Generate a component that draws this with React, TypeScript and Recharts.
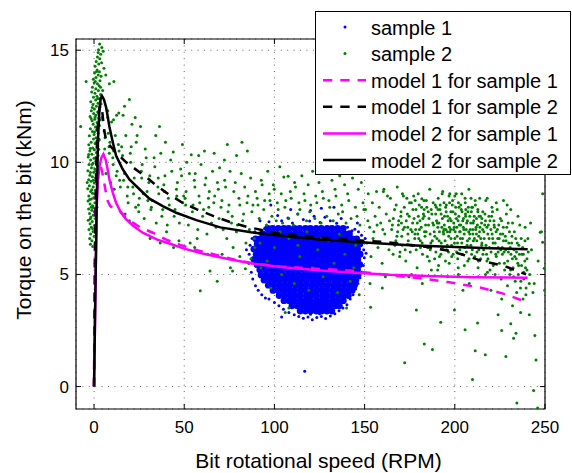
import React from 'react';
import { ComposedChart, Scatter, XAxis, YAxis, CartesianGrid, ReferenceArea, Legend } from 'recharts';

const FONT = '"Liberation Sans", Arial, Helvetica, sans-serif';

const X_TICKS = [0, 50, 100, 150, 200, 250];
const Y_TICKS = [0, 5, 10, 15];
const X_DOMAIN: [number, number] = [-10, 250];
const Y_DOMAIN: [number, number] = [-1, 15.5];

const SERIES_NAMES = ['sample 1', 'sample 2', 'model 1 for sample 1', 'model 1 for sample 2', 'model 2 for sample 1', 'model 2 for sample 2'];
const SERIES_COLORS = ['#0000ff', '#008000', '#ff00ff', '#000000', '#ff00ff', '#000000'];
const SERIES_KINDS = ['dot', 'dot', 'dash', 'dash', 'solid', 'solid'];

// sample 1: dense core of the cloud, rows of [torque, speeds]
const sample1CoreRows: [number, number[]][] = [
  [7.05, [96.2, 98.9, 102.1, 105.2, 107.9, 111.1, 114, 117.2, 119.9, 123.1, 126, 129.2, 131.9, 135, 138.1]],
  [6.82, [93.4, 96.6, 99.5, 102.7, 105.6, 108.5, 111.7, 114.5, 117.6, 120.6, 123.5, 126.7, 129.6, 132.5, 135.6, 138.7, 141.6]],
  [6.59, [89.6, 92, 95.1, 98.1, 101, 104.2, 107.1, 110, 113.1, 116.2, 119, 122.1, 125.1, 128, 131.2, 134.1, 137, 140.1, 143.2, 145.6]],
  [6.36, [90.4, 93.6, 96.5, 99.6, 102.6, 105.5, 108.7, 111.6, 114.6, 117.5, 120.7, 123.6, 126.5, 129.7, 132.6, 135.5, 138.6, 141.7, 144.6, 147.4]],
  [6.13, [88.6, 91.9, 94.9, 97.9, 101.1, 104, 107, 110.2, 113.1, 116, 119.1, 122.1, 125, 128.1, 131.1, 134.2, 137.1, 140, 143.1, 146.1]],
  [5.9, [89.9, 93.2, 96.4, 99.4, 102.4, 105.5, 108.4, 111.6, 114.5, 117.4, 120.6, 123.6, 126.5, 129.6, 132.6, 135.6, 138.6, 141.5, 144.6, 147.5]],
  [5.67, [88.7, 91.8, 95, 98, 100.9, 104.1, 107.1, 110, 113.1, 116.1, 119, 122, 125.2, 128.1, 131, 134.1, 137.2, 140.1, 143, 146.2]],
  [5.44, [90.3, 93.5, 96.5, 99.6, 102.5, 105.6, 108.6, 111.5, 114.7, 117.6, 120.5, 123.7, 126.6, 129.5, 132.7, 135.6, 138.5, 141.6, 144.7, 147.3]],
  [5.21, [91.9, 95.1, 98.2, 101.1, 104, 107.2, 110.1, 113, 116.2, 119.1, 122, 125.1, 128.2, 131.1, 134, 137.1, 140.2, 143, 146.1]],
  [4.98, [92.6, 95.6, 98.7, 101.6, 104.6, 107.7, 110.5, 113.6, 116.7, 119.6, 122.6, 125.7, 128.6, 131.5, 134.7, 137.6, 140.5, 143.6, 146.4]],
  [4.75, [94.2, 97.1, 100.2, 103.1, 106, 109.2, 112.1, 115, 118.1, 121.2, 124.1, 127, 130.1, 133.2, 136, 139.1, 142.2, 145.2]],
  [4.52, [96.6, 99.6, 102.7, 105.6, 108.5, 111.7, 114.6, 117.5, 120.7, 123.6, 126.5, 129.6, 132.7, 135.5, 138.6, 141.7, 144.4]],
  [4.29, [99.2, 102.1, 105.2, 108.1, 111, 114.2, 117.1, 120, 123.1, 126.1, 129, 132.2, 135.1, 138, 141.1, 143.1]],
  [4.06, [102.6, 105.6, 108.7, 111.6, 114.5, 117.7, 120.6, 123.5, 126.7, 129.6, 132.5, 135.7, 138.6, 141]],
  [3.83, [105.3, 108.2, 111.1, 114.2, 117.1, 120, 123.2, 126.1, 129, 132.2, 135.1, 138.2]],
  [3.6, [109.7, 112.6, 115.7, 118.6, 121.5, 124.7, 127.6, 130.5, 133.7, 136]],
  [3.37, [114.3, 117.2, 120.1, 123.2, 126.1, 129, 131.8]],
];

// sample 1: loose points around the rim of the cloud
const sample1Edge: [number, number][] = [
  [97, 7.35], [101.8, 7.63], [104, 7.4], [107.5, 7.52], [110, 7.3], [113, 7.7], [116, 7.45], [119.5, 7.38], [122, 7.6], [125.3, 7.32],
  [128, 7.55], [131, 7.4], [134.5, 7.28], [137, 7.5], [140.5, 7.1], [143, 6.95], [94.5, 7.05], [91.5, 6.85], [120, 7.85], [126, 7.95], [109, 7.9],
  [86.5, 6.3], [86, 5.9], [85.8, 5.5], [87.6, 6.6], [87.2, 5.1], [88, 4.8], [89.5, 4.5], [91, 4.3], [93, 4.1], [95, 3.95], [97, 3.9],
  [100, 3.75], [102.5, 3.6], [105, 3.45], [108, 3.3], [111, 3.2], [113.5, 3.12], [89.2, 6.9],
  [116, 3.05], [118.6, 3.1], [121, 2.98], [123.5, 3.08], [126, 3.12], [128.4, 3.04], [131, 3.15], [133.5, 3.25], [135.8, 3.38], [138, 3.5], [120, 3.22], [125, 3.25],
  [140.2, 3.65], [142, 3.9], [143.6, 4.1], [145, 4.35], [146.3, 4.6], [147.4, 4.85], [148.5, 5.1], [149.3, 5.4], [149.8, 5.75], [149.5, 6.1],
  [149.2, 6.45], [148.3, 6.75], [146.6, 6.9], [144.6, 7.02], [150.8, 5.95], [150.3, 6.6],
  [116.8, 0.68], [98, 8.1], [133, 8.0], [92, 7.4], [146, 7.3], [84.5, 6.1], [104, 3.1],
];

// sample 2: near-zero speed spike
const sample2Spike: [number, number][] = [
  [3.1, 15.28], [4.3, 15.12], [2.5, 15.02], [5.1, 14.95], [3.7, 14.82], [1.9, 14.7], [3.2, 14.62], [1.2, 14.5], [4.2, 14.44], [2.6, 14.38],
  [0.6, 14.28], [5.5, 14.2], [1.7, 14.12], [3.0, 14.04], [0.3, 13.98], [2.3, 13.9], [3.9, 13.84], [1.1, 13.78], [-0.4, 13.7], [3.3, 13.64],
  [0.1, 13.55], [1.9, 13.5], [2.8, 13.42], [-0.9, 13.35], [1.0, 13.28], [2.4, 13.2], [-1.3, 13.14], [0.5, 13.08], [3.6, 13.02], [1.6, 12.95],
  [-0.3, 12.9], [2.9, 12.84], [0.9, 12.78], [-1.8, 12.7], [2.2, 12.64], [-0.6, 12.58], [1.3, 12.5], [3.2, 12.44], [0.2, 12.38], [-1.5, 12.3],
  [2.0, 12.24], [-0.2, 12.18], [1.0, 12.1], [-2.2, 12.04], [2.6, 11.98], [0.4, 11.92], [-1.1, 11.85], [1.7, 11.78], [-0.5, 11.7], [3.0, 11.64],
  [0.8, 11.58], [-2.0, 11.5], [1.4, 11.44], [-0.9, 11.38], [2.3, 11.3], [0.0, 11.24], [-2.6, 11.18], [1.1, 11.1], [-0.3, 11.04], [2.6, 10.98],
  [-1.6, 10.9], [0.6, 10.84], [-2.9, 10.78], [1.8, 10.7], [-0.8, 10.64], [0.2, 10.56], [-2.3, 10.5], [1.3, 10.44], [-1.2, 10.36], [2.2, 10.3],
  [-3.2, 10.24], [0.0, 10.18], [-1.9, 10.1], [1.0, 10.04], [-0.6, 9.96], [-2.8, 9.9], [1.9, 9.84], [-1.4, 9.76], [0.4, 9.7], [-3.4, 9.62],
  [-0.2, 9.56], [1.4, 9.5], [-2.3, 9.42], [-0.9, 9.36], [0.8, 9.3], [-3.0, 9.22], [-1.6, 9.16], [0.1, 9.08], [1.7, 9.02], [-2.6, 8.96],
  [-0.5, 8.9], [-3.5, 8.82], [0.7, 8.76], [-1.9, 8.7], [-0.9, 8.62], [1.2, 8.56], [-2.9, 8.5], [-0.2, 8.42], [-1.5, 8.36], [-3.3, 8.28],
  [0.5, 8.2], [-2.2, 8.14], [-0.8, 8.06], [1.6, 8.0], [-3.0, 7.92], [-1.2, 7.86], [0.2, 7.8], [-2.5, 7.72], [-0.4, 7.64], [-1.8, 7.56],
  [0.8, 7.5], [-3.2, 7.42], [-1.0, 7.36], [-2.2, 7.26], [0.3, 7.18], [-1.5, 7.1], [-2.8, 7.0], [-0.5, 6.92], [-1.9, 6.8], [0.1, 6.7],
  [-2.4, 6.6], [-1.2, 6.5], [-2.0, 6.35], [-0.7, 6.25],
  [2.3, 14.9], [1.4, 14.05], [3.6, 13.35], [0.7, 13.6], [2.0, 12.85], [3.9, 12.6], [0.6, 12.0], [2.8, 12.3], [-1.0, 12.45], [1.9, 11.55],
  [-1.6, 11.95], [0.3, 11.35], [2.9, 11.02], [-2.1, 10.62], [0.8, 10.2], [2.6, 10.58], [-1.1, 9.9], [-2.0, 9.55], [0.9, 9.62], [-0.4, 9.2],
  [-1.3, 8.78], [0.3, 8.6], [-2.4, 8.34], [-0.3, 7.98], [-1.6, 8.0], [1.0, 7.9], [-2.1, 7.48], [-0.8, 7.05], [1.4, 10.9], [3.5, 11.9],
  [-3.0, 10.35], [4.8, 13.2], [4.5, 12.0], [1.5, 9.15], [-3.8, 9.1],
  [-7.4, 11.6], [-4.4, 13.6], [11.0, 13.6], [8.5, 13.5], [16.9, 12.5], [19.6, 12.8], [13.7, 12.2], [7.6, 12.3], [10.8, 11.9], [6.5, 13.9],
];

// sample 2: decaying region, 5 to 90 RPM
const sample2Low: [number, number][] = [
  [5.6, 11.4], [6.1, 11.1], [5.9, 10.6], [7.2, 12.3], [7.6, 12.0], [8.3, 10.7], [8.8, 10.9], [8.5, 10.4], [9.7, 11.8], [10.4, 10.2],
  [10.9, 10.5], [10.6, 9.9], [11.8, 11.2], [12.3, 9.4], [12.8, 9.6], [13.5, 10.8], [13.9, 10.5], [14.6, 8.9], [14.2, 9.2], [11.2, 8.8],
  [6.6, 9.5], [9.2, 9.1], [12.5, 12.1], [7.9, 11.3],
  [15.3, 10.7], [15.8, 10.3], [16.4, 9.2], [16.9, 9.5], [17.6, 11.2], [18.4, 8.5], [18.9, 8.2], [18.7, 8.9], [20.1, 10.4], [20.6, 10.7],
  [20.3, 10.0], [21.5, 8.9], [22.3, 9.3], [21.9, 8.6], [23.4, 10.9], [23.9, 11.2], [24.6, 8.1], [25.1, 8.4], [24.8, 7.8], [26.2, 9.6],
  [26.7, 9.9], [26.4, 9.3], [27.8, 7.5], [28.4, 10.6], [28.9, 10.2], [29.4, 8.7], [29.8, 8.3], [17.2, 7.7], [19.6, 7.4], [22.8, 12.0],
  [25.8, 11.6], [27.3, 8.6], [16.1, 12.1], [23.1, 8.0], [21.0, 11.7],
  [30.4, 9.1], [30.9, 9.4], [31.5, 7.9], [32.2, 8.3], [31.8, 8.0], [33.3, 10.2], [33.7, 9.8], [34.5, 7.3], [35.4, 8.9], [35.9, 8.6],
  [35.6, 9.3], [37.0, 10.4], [37.6, 7.6], [38.1, 7.9], [38.7, 9.0], [39.3, 9.4], [39.0, 8.7], [40.6, 7.2], [41.2, 8.4], [41.7, 8.1],
  [42.5, 10.1], [43.1, 9.6], [43.9, 10.46], [44.4, 7.6], [44.9, 7.9], [45.7, 8.8], [46.2, 9.1], [45.9, 8.5], [47.3, 7.3], [48.0, 9.7],
  [48.5, 9.4], [49.2, 8.2], [49.7, 8.5], [31.1, 6.6], [36.7, 6.4], [40.2, 6.9], [44.1, 6.2], [47.1, 6.5], [34.2, 11.2], [39.6, 10.9],
  [49.0, 10.8], [36.3, 11.6],
  [50.5, 8.4], [51.0, 8.7], [50.8, 8.1], [52.3, 7.2], [52.9, 9.5], [53.9, 10.34], [54.5, 7.8], [54.9, 8.1], [55.6, 9.2], [56.1, 9.5],
  [55.9, 8.9], [57.5, 7.0], [58.2, 8.5], [58.6, 8.2], [59.3, 9.9], [60.2, 7.6], [60.7, 7.9], [61.5, 9.0], [62.0, 9.3], [62.6, 6.8],
  [63.4, 8.4], [63.9, 8.7], [63.6, 8.0], [65.1, 7.3], [65.7, 9.6], [66.4, 8.2], [66.9, 8.5], [67.6, 7.1], [68.4, 9.1], [68.9, 8.8],
  [69.6, 9.76], [69.3, 7.5], [53.3, 6.4], [58.0, 10.3], [63.0, 5.9], [64.3, 5.15], [58.9, 4.27], [68.3, 4.7], [55.8, 6.2], [61.2, 10.5],
  [66.6, 10.4], [51.4, 10.0], [57.2, 6.6],
  [70.4, 8.0], [70.9, 8.3], [71.6, 7.0], [72.4, 9.2], [72.9, 8.9], [73.6, 6.6], [74.3, 7.8], [74.8, 8.1], [75.6, 5.3], [75.4, 9.6],
  [76.2, 7.3], [76.8, 5.15], [76.6, 7.6], [77.5, 8.7], [78.3, 9.1], [78.9, 6.9], [79.5, 7.2], [80.3, 8.4], [80.8, 8.1], [81.6, 9.5],
  [82.4, 7.4], [82.9, 7.7], [83.9, 5.25], [83.5, 8.9], [84.2, 6.4], [84.8, 8.2], [85.3, 8.5], [86.1, 7.0], [86.8, 9.3], [87.5, 7.8],
  [88.1, 8.1], [88.9, 6.6], [89.5, 8.7], [72.3, 10.1], [79.0, 10.3], [85.0, 10.5], [71.0, 5.9], [80.8, 5.8], [87.0, 5.7], [73.9, 10.8],
  [82.0, 10.9], [77.1, 6.2],
];

// sample 2: over and around the sample 1 cloud, 90 to 150 RPM
const sample2Mid: [number, number][] = [
  [90.4, 8.4], [90.9, 8.1], [91.6, 7.5], [92.7, 9.2], [93.2, 9.0], [94.1, 7.9], [94.6, 8.3], [95.6, 7.2], [96.3, 9.6], [97.1, 8.6],
  [97.5, 8.3], [98.6, 7.6], [99.4, 9.0], [99.9, 8.8], [101.0, 7.4], [101.6, 8.2], [102.1, 7.9], [103.0, 9.8], [103.8, 8.6], [104.5, 7.3],
  [105.2, 9.35], [105.8, 8.0], [106.3, 8.3], [107.6, 9.38], [107.9, 7.5], [108.8, 8.7], [109.3, 8.4], [110.5, 7.2], [111.2, 9.1], [111.7, 8.9],
  [112.9, 7.7], [113.6, 8.2], [114.1, 7.9], [115.2, 9.4], [116.4, 8.6], [116.9, 8.3], [117.8, 7.4], [118.7, 9.0], [119.6, 7.8], [120.1, 8.1],
  [121.2, 9.6], [122.4, 7.5], [122.9, 8.5], [123.5, 8.2], [124.7, 9.1], [125.9, 7.3], [126.6, 8.7], [127.1, 8.4], [128.3, 9.5], [129.0, 7.6],
  [130.2, 8.3], [130.7, 8.0], [131.9, 9.2], [132.6, 7.4], [133.6, 8.8], [134.1, 8.5], [135.4, 7.7], [136.2, 9.4], [137.3, 8.1], [137.8, 7.8],
  [138.9, 9.0], [139.7, 7.3], [140.6, 8.6], [141.2, 8.3], [142.5, 7.5], [143.3, 9.3], [144.4, 9.8], [144.9, 8.0], [145.8, 7.6], [146.5, 8.8],
  [147.4, 7.2], [148.2, 9.1], [149.1, 8.2], [149.6, 7.9],
  [92, 6.4], [96, 5.6], [100, 6.2], [104, 5.0], [108, 6.6], [111, 4.6], [114, 5.8], [118, 6.9], [121, 5.3], [124, 6.1],
  [127, 4.9], [130, 6.5], [133, 5.5], [136, 6.8], [139, 5.9], [142, 4.7], [145, 6.3], [106, 3.3], [108, 3.5], [98, 4.4],
  [140, 3.5], [147, 4.1], [113, 6.3], [126, 6.6], [119, 4.3], [103, 6.9], [135, 4.2], [144, 5.3], [89, 6.2], [92.5, 5.3],
];

// sample 2: high speed region, 150 to 250 RPM
const sample2High: [number, number][] = [
  [150.5, 7.9], [151.2, 6.4], [152.0, 8.6], [152.8, 7.1], [153.5, 5.8], [154.3, 8.2], [155.1, 6.9], [155.8, 7.6], [156.6, 8.7], [157.4, 6.2],
  [158.1, 8.0], [158.9, 7.3], [159.7, 5.5], [160.4, 8.7], [161.2, 6.8], [162.0, 7.7], [162.7, 8.5], [163.5, 6.1], [164.3, 8.4], [165.0, 7.0],
  [165.8, 5.9], [166.6, 7.9], [167.3, 6.5], [168.1, 8.9], [168.9, 7.4], [169.6, 6.0], [153.0, 4.6], [161.5, 4.9], [153.3, 3.54], [160.7, 8.8],
  [170.2, 7.8], [170.8, 6.3], [171.5, 8.5], [172.1, 7.1], [172.8, 5.6], [173.4, 8.4], [174.0, 6.8], [174.7, 7.6], [175.3, 6.0], [175.9, 8.2],
  [176.6, 7.3], [177.2, 8.5], [177.8, 6.6], [178.5, 7.9], [179.1, 5.3], [179.7, 8.6], [180.4, 7.0], [181.0, 6.2], [181.6, 8.0], [182.3, 7.5],
  [182.9, 8.3], [183.5, 6.7], [184.2, 8.3], [184.8, 5.8], [185.4, 7.2], [186.1, 8.8], [186.7, 6.4], [187.3, 7.7], [188.0, 8.2], [188.6, 6.9],
  [189.2, 8.1], [189.9, 7.4], [171.0, 8.6], [174.5, 4.9], [178.0, 8.3], [180.0, 6.6], [183.0, 7.9], [187.0, 5.2], [189.5, 6.0], [176.0, 5.0],
  [182.0, 4.6], [181.7, 8.38],
  [190.3, 7.3], [190.8, 8.4], [191.3, 6.5], [191.8, 7.9], [192.3, 5.9], [192.8, 7.1], [193.3, 8.7], [193.8, 6.8], [194.3, 7.6], [194.8, 5.6],
  [195.3, 8.1], [195.8, 6.3], [196.3, 7.4], [196.8, 8.5], [197.3, 6.9], [197.8, 7.8], [198.3, 5.8], [198.8, 8.3], [199.3, 7.0], [199.8, 6.4],
  [200.3, 7.7], [200.8, 8.6], [201.3, 6.7], [201.8, 7.4], [202.3, 8.0], [202.8, 6.1], [203.3, 7.2], [203.8, 8.6], [204.3, 6.6], [204.8, 7.5],
  [205.3, 5.4], [205.8, 8.2], [206.3, 7.0], [206.8, 6.3], [207.3, 7.8], [207.8, 8.8], [208.3, 6.8], [208.8, 7.3], [209.3, 5.9], [209.8, 8.0],
  [210.3, 6.5], [210.8, 7.6], [211.3, 8.3], [211.8, 7.1], [212.3, 6.0], [212.8, 7.9], [213.3, 6.7], [213.8, 8.4], [214.3, 5.7], [214.8, 7.3],
  [190.5, 5.2], [193.0, 8.6], [196.0, 4.9], [202.0, 5.0], [208.0, 4.6], [213.0, 4.9], [191.5, 6.9], [194.0, 8.2], [197.0, 7.1], [200.0, 8.5],
  [203.0, 6.9], [206.0, 7.6], [209.0, 8.4], [212.0, 7.5], [215.0, 6.4], [195.0, 7.0], [198.0, 7.4], [201.0, 6.0], [204.0, 7.8], [207.0, 6.5],
  [210.0, 7.0], [213.5, 7.6], [204.5, 4.3], [197.2, 8.6], [205.7, 8.4],
  [215.5, 7.8], [216.0, 6.1], [216.6, 7.2], [217.2, 8.3], [217.8, 5.6], [218.3, 6.8], [218.9, 7.6], [219.5, 5.2], [220.0, 7.0], [220.6, 8.0],
  [221.2, 6.4], [221.7, 7.4], [222.3, 5.0], [222.9, 6.9], [223.5, 7.9], [224.0, 6.0], [224.6, 6.6], [225.2, 7.5], [225.7, 4.8], [226.3, 6.2],
  [226.9, 7.1], [227.5, 5.5], [228.0, 6.7], [228.6, 7.7], [229.2, 4.5], [229.7, 6.0], [230.3, 6.9], [230.9, 5.2], [231.5, 6.4], [232.0, 7.3],
  [232.6, 4.9], [233.2, 5.8], [233.8, 6.6], [234.3, 4.2], [234.9, 5.5], [235.5, 6.3], [236.0, 7.2], [236.6, 4.7], [237.2, 5.9], [237.8, 3.9],
  [238.3, 5.1], [238.9, 6.5], [239.5, 4.4], [240.0, 5.7], [218.0, 8.4], [223.0, 8.2], [227.0, 8.3], [231.0, 7.9], [235.0, 7.6], [239.0, 7.1],
  [220.0, 4.3], [226.0, 3.9], [232.0, 3.6], [236.5, 3.3], [217.0, 5.0], [229.0, 8.1], [240.5, 6.6], [220.9, 7.8],
  [241.5, 5.0], [242.5, 6.1], [243.3, 4.2], [244.0, 4.6], [247.4, 6.88], [248.7, 8.6], [249.6, 5.28], [246.2, 5.6], [242.0, 7.3], [248.0, 6.9],
  [248.7, 6.44], [249.8, 4.3],
  [159.8, 4.4], [172.2, 1.06], [178.7, 3.42], [183.1, 1.9], [187.6, 1.65], [192.2, 2.87], [199.8, 3.42], [205.7, 2.53], [209.8, 0.31], [211.3, 1.6],
  [212.6, 2.84], [216.9, 1.42], [224.0, 3.2], [226.0, 2.5], [228.3, 1.34], [232.6, 2.16], [233.9, 2.38], [234.4, -0.73], [243.7, -0.18], [244.4, 2.28],
  [245.0, 1.19], [245.9, -0.95], [241.3, 3.2], [231.0, 2.8],
];

// sample 2: the densest part of the high speed band
const sample2Band: [number, number][] = [
  [165.4, 7.2], [165.9, 7.5], [166.8, 6.3], [167.5, 8.1], [168.3, 6.9], [168.7, 7.2], [169.4, 5.8], [170.1, 7.6], [170.6, 6.7], [171.3, 7.0],
  [172.0, 8.0], [172.5, 6.1], [173.1, 7.4], [173.7, 7.7], [174.2, 6.5], [174.9, 8.2], [175.6, 7.0], [176.2, 6.3], [176.8, 7.9], [177.4, 7.5],
  [177.9, 6.8], [178.6, 6.1], [179.2, 7.3], [179.8, 7.6], [180.3, 8.1], [180.9, 6.5], [181.4, 7.1], [182.1, 5.9], [182.6, 7.7], [183.2, 6.9],
  [183.8, 7.2], [184.5, 8.0], [185.0, 6.2], [185.7, 7.5], [186.3, 6.8], [186.9, 7.9], [187.5, 6.5], [188.2, 7.2], [188.8, 5.7], [189.4, 7.7],
  [190.1, 6.6], [190.7, 7.9], [191.2, 7.3], [191.9, 8.1], [192.5, 6.4], [193.1, 7.5], [193.6, 6.9], [194.2, 7.2], [194.9, 8.0], [195.5, 6.1],
  [196.0, 7.6], [196.6, 6.7], [197.1, 8.2], [197.7, 7.0], [198.2, 6.3], [198.9, 7.8], [199.4, 7.3], [200.0, 6.6], [200.5, 8.0], [201.1, 7.1],
  [201.6, 5.7], [202.2, 7.6], [202.7, 6.9], [203.3, 8.1], [203.9, 6.4], [204.4, 7.4], [205.0, 7.0], [205.5, 6.2], [206.1, 7.9], [206.6, 7.3],
  [207.2, 5.6], [207.7, 6.9], [208.3, 7.6], [208.9, 6.3], [209.4, 8.0], [210.0, 6.8], [210.5, 7.4], [211.1, 5.8], [211.6, 7.0], [212.2, 6.5],
  [212.8, 7.8], [213.3, 6.1], [213.9, 7.1], [214.4, 6.6], [215.0, 7.5], [215.6, 5.9], [216.1, 6.9], [216.7, 7.7], [217.3, 6.3], [217.8, 7.1],
  [218.4, 5.7], [219.0, 6.6], [219.5, 7.4], [220.1, 6.0], [220.7, 6.8], [221.3, 5.4], [221.8, 7.2], [222.4, 6.4], [223.0, 5.8], [223.6, 7.0],
  [224.1, 6.2], [224.7, 5.5], [225.3, 6.8], [225.9, 7.4], [226.4, 5.9], [227.0, 6.5], [227.6, 5.2], [228.2, 6.1], [228.8, 7.1], [229.3, 5.6],
  [229.9, 6.4], [230.5, 5.0], [231.1, 5.9], [231.7, 6.7], [232.3, 5.3], [232.9, 6.1], [233.5, 4.7], [234.0, 5.7], [234.6, 6.4], [235.2, 5.0],
  [235.8, 5.9], [236.4, 4.4], [237.0, 5.4], [237.6, 6.2], [238.2, 4.8], [238.8, 5.6], [239.4, 4.1], [240.0, 5.2], [240.7, 6.0], [241.3, 4.6],
  [178.3, 7.0], [179.5, 6.8], [180.7, 7.4], [181.9, 6.4], [183.0, 7.6], [184.1, 6.9], [185.3, 7.8], [186.4, 6.1], [187.8, 7.3], [188.9, 6.7],
  [189.7, 8.0], [190.6, 7.1], [191.5, 5.8], [192.4, 7.7], [193.2, 6.2], [194.0, 7.0], [194.6, 6.5], [195.2, 7.8], [195.9, 6.9], [196.5, 6.0],
  [197.3, 7.5], [197.9, 6.6], [198.6, 8.1], [199.1, 5.9], [199.7, 7.1], [200.2, 6.9], [200.9, 7.5], [201.5, 6.4], [202.0, 8.2], [202.5, 7.2],
  [203.1, 6.6], [203.6, 7.9], [204.1, 5.9], [204.7, 7.1], [205.2, 6.8], [205.9, 7.7], [206.4, 6.0], [207.0, 7.4], [207.5, 8.0], [208.1, 6.6],
  [208.6, 7.0], [209.2, 7.8], [209.7, 6.1], [210.2, 7.3], [210.9, 6.6], [211.4, 8.1], [212.0, 6.8], [212.5, 7.2], [213.1, 5.6], [213.7, 6.9],
  [214.2, 7.6], [214.9, 6.3], [215.4, 7.0], [216.3, 6.6], [217.0, 7.4], [217.6, 5.9], [218.6, 7.2], [219.2, 6.2], [220.4, 7.6], [221.0, 6.6],
  [222.0, 7.1], [222.7, 5.9], [223.8, 6.6], [224.4, 7.2], [225.5, 6.1], [226.6, 6.8], [227.3, 6.0], [228.4, 6.5], [229.6, 7.3], [230.7, 6.2],
  [231.9, 5.7], [233.0, 6.9], [234.2, 6.0], [235.4, 5.4], [236.8, 6.6], [238.0, 5.9], [239.2, 5.3], [185.9, 5.6], [191.0, 5.4], [196.9, 5.5],
  [201.9, 5.3], [207.9, 5.7], [212.9, 5.3], [218.1, 5.1], [176.4, 6.9], [173.9, 7.1], [170.4, 7.3], [167.9, 6.7], [163.8, 7.4], [160.1, 7.0],
  [156.9, 7.2], [154.7, 6.6], [151.8, 7.4],
];

const model1Sample1: [number, number][] = [
  [0, 0], [0.3, 5], [0.6, 7.8], [1.2, 8.9], [2, 9.5], [3, 9.8], [4, 9.75], [4.8, 9.45], [5.7, 9.05], [6.7, 8.6], [7.6, 8.27], [9, 8.05],
  [11, 7.93], [14, 7.85], [17, 7.6], [21.5, 7.32], [26, 7.08], [32.6, 6.86], [40, 6.55], [47.8, 6.32], [56, 6.1], [66.3, 5.9], [80, 5.62],
  [90, 5.47], [103, 5.36], [120, 5.27], [142, 5.18], [160, 5.0], [180, 4.84], [196, 4.66], [214, 4.42], [228, 4.12], [239.5, 3.78],
];

const model1Sample2: [number, number][] = [
  [0, 0], [0.6, 6], [1.2, 9.8], [1.8, 11.3], [2.6, 12.2], [3.5, 12.55], [4.5, 12.3], [5.7, 11.4], [6.7, 11.0], [7.6, 10.85], [10.4, 10.6],
  [14, 10.3], [17.8, 10.0], [22, 9.75], [28.9, 9.35], [34, 9.0], [40, 8.65], [49, 8.2], [57, 7.9], [66.3, 7.6], [75, 7.35], [84.8, 7.12],
  [103, 6.82], [120, 6.68], [142, 6.55], [160, 6.45], [170, 6.37], [185, 6.22], [196, 6.07], [205, 5.87], [214, 5.63], [222, 5.48],
  [229, 5.33], [239.5, 5.0],
];

const model2Sample1: [number, number][] = [
  [0, 0], [0.8, 4.4], [1.5, 8.0], [2.2, 9.2], [3, 9.8], [4, 10.2], [5.2, 10.37], [6.5, 10.1], [7.5, 9.7], [8.5, 9.24], [10.4, 8.65],
  [12.2, 8.2], [15, 7.75], [17.8, 7.45], [22, 7.15], [27, 6.86], [35, 6.55], [42.2, 6.37], [50, 6.15], [60.7, 5.92], [75, 5.68],
  [88.5, 5.48], [105, 5.32], [125.6, 5.18], [145, 5.08], [164, 4.99], [185, 4.93], [210, 4.88], [240.4, 4.85],
];

const model2Sample2: [number, number][] = [
  [0, 0], [0.8, 4.5], [1.5, 8.3], [2.2, 11], [3, 12.4], [3.7, 12.85], [4.4, 12.96], [5.5, 12.8], [6.7, 12.45], [8.5, 11.6], [10.4, 10.9],
  [12.2, 10.3], [15.9, 9.69], [19.6, 9.24], [25.2, 8.8], [30.7, 8.38], [38.1, 8.05], [45.6, 7.75], [56.7, 7.42], [70, 7.1], [87, 6.88],
  [100, 6.76], [126, 6.55], [150, 6.42], [175, 6.3], [200, 6.22], [220, 6.17], [240.4, 6.12],
];

const toPoints = (arr: [number, number][]) => arr.map(([x, y]) => ({ x, y }));
const rowsToPoints = (rows: [number, number[]][]) => rows.flatMap(([y, xs]) => xs.map((x) => ({ x, y })));

const W = 572;
const H = 473;
const PLOT_LEFT = 76;
const PLOT_TOP = 39;
const PLOT_RIGHT = 545;
const PLOT_BOTTOM = 409;

const XTick = (props: any) => {
  const { x, y, payload } = props;
  return (
    <g>
      <line x1={x} x2={x} y1={PLOT_BOTTOM} y2={PLOT_BOTTOM - 5} stroke="#000" strokeWidth={1} />
      <line x1={x} x2={x} y1={PLOT_TOP} y2={PLOT_TOP + 5} stroke="#000" strokeWidth={1} />
      <text x={x} y={y + 24} textAnchor="middle" fontSize={17} fontFamily={FONT} fill="#000">{payload.value}</text>
    </g>
  );
};

const YTick = (props: any) => {
  const { x, y, payload } = props;
  return (
    <g>
      <line x1={PLOT_LEFT} x2={PLOT_LEFT + 5} y1={y} y2={y} stroke="#000" strokeWidth={1} />
      <line x1={PLOT_RIGHT} x2={PLOT_RIGHT - 5} y1={y} y2={y} stroke="#000" strokeWidth={1} />
      <text x={x - 7} y={y + 6} textAnchor="end" fontSize={17} fontFamily={FONT} fill="#000">{payload.value}</text>
    </g>
  );
};

const XLabel = (props: any) => {
  const vb = props.viewBox || { x: PLOT_LEFT, y: PLOT_BOTTOM, width: PLOT_RIGHT - PLOT_LEFT, height: 64 };
  return (
    <text x={vb.x + vb.width / 2 + 8} y={vb.y + 59} textAnchor="middle" fontSize={21} fontFamily={FONT} fill="#000">
      Bit rotational speed (RPM)
    </text>
  );
};

const YLabel = (props: any) => {
  const vb = props.viewBox || { x: 0, y: PLOT_TOP, width: 76, height: PLOT_BOTTOM - PLOT_TOP };
  const cx = 30.5;
  const cy = vb.y + vb.height / 2 - 14;
  return (
    <text x={cx} y={cy} transform={`rotate(-90 ${cx} ${cy})`} textAnchor="middle" fontSize={21} fontFamily={FONT} fill="#000">
      Torque on the bit (kNm)
    </text>
  );
};

const LegendBox = () => (
  <svg width={256} height={164} style={{ display: 'block' }}>
    <rect x={0.5} y={0.5} width={255} height={163} fill="#fff" stroke="#000" strokeWidth={1} />
    {SERIES_NAMES.map((name, i) => {
      const cy = 16 + i * 26.6;
      const kind = SERIES_KINDS[i];
      const color = SERIES_COLORS[i];
      return (
        <g key={name}>
          {kind === 'dot' ? (
            <circle cx={30} cy={cy} r={1.5} fill={color} />
          ) : (
            <line x1={8} x2={51} y1={cy} y2={cy} stroke={color} strokeWidth={2.5} strokeDasharray={kind === 'dash' ? '9.3 8' : undefined} />
          )}
          <text x={56} y={cy + 7.5} fontSize={20} fontFamily={FONT} fill="#000">{name}</text>
        </g>
      );
    })}
  </svg>
);

const dot = (r: number, color: string) => (p: any) => <circle cx={p.cx} cy={p.cy} r={r} fill={color} />;
const noShape = () => <g />;

export default function App() {
  const s1core = rowsToPoints(sample1CoreRows);
  const s1edge = toPoints(sample1Edge);
  const s2 = toPoints([...sample2Spike, ...sample2Low, ...sample2Mid, ...sample2High, ...sample2Band]);
  return (
    <div style={{ position: 'absolute', left: 0, top: 0, width: W, height: H, background: '#fff' }}>
      <ComposedChart width={W} height={H} margin={{ top: PLOT_TOP, right: W - PLOT_RIGHT, bottom: 0, left: 0 }}>
        <CartesianGrid stroke="#666" strokeDasharray="1 5.4" strokeWidth={1} />
        <XAxis
          type="number"
          dataKey="x"
          domain={X_DOMAIN}
          ticks={X_TICKS}
          allowDataOverflow
          height={H - PLOT_BOTTOM}
          tickSize={0}
          tickMargin={0}
          tickLine={false}
          axisLine={false}
          tick={<XTick />}
          interval={0}
          label={<XLabel />}
        />
        <YAxis
          type="number"
          dataKey="y"
          domain={Y_DOMAIN}
          ticks={Y_TICKS}
          allowDataOverflow
          width={PLOT_LEFT}
          tickSize={0}
          tickMargin={0}
          tickLine={false}
          axisLine={false}
          tick={<YTick />}
          interval={0}
          label={<YLabel />}
        />
        <Scatter name="sample 1" data={s1core} shape={dot(3.4, SERIES_COLORS[0])} isAnimationActive={false} />
        <Scatter name="sample 1 rim" data={s1edge} shape={dot(1.5, SERIES_COLORS[0])} isAnimationActive={false} legendType="none" />
        <Scatter name="sample 2" data={s2} shape={dot(1.5, SERIES_COLORS[1])} isAnimationActive={false} />
        <Scatter name="model 1 for sample 1" data={toPoints(model1Sample1)} shape={noShape} line={{ stroke: SERIES_COLORS[2], strokeWidth: 2.5, strokeDasharray: '9 8' }} lineType="joint" isAnimationActive={false} />
        <Scatter name="model 1 for sample 2" data={toPoints(model1Sample2)} shape={noShape} line={{ stroke: SERIES_COLORS[3], strokeWidth: 2.5, strokeDasharray: '9 8' }} lineType="joint" isAnimationActive={false} />
        <Scatter name="model 2 for sample 1" data={toPoints(model2Sample1)} shape={noShape} line={{ stroke: SERIES_COLORS[4], strokeWidth: 2.5 }} lineType="joint" isAnimationActive={false} />
        <Scatter name="model 2 for sample 2" data={toPoints(model2Sample2)} shape={noShape} line={{ stroke: SERIES_COLORS[5], strokeWidth: 2.5 }} lineType="joint" isAnimationActive={false} />
        <ReferenceArea x1={X_DOMAIN[0]} x2={X_DOMAIN[1]} y1={Y_DOMAIN[0]} y2={Y_DOMAIN[1]} fill="none" stroke="#000" strokeWidth={1.2} fillOpacity={0} />
        <Legend
          layout="vertical"
          align="center"
          verticalAlign="middle"
          content={() => <LegendBox />}
          wrapperStyle={{ left: 315, top: 11, width: 256, height: 164 }}
        />
      </ComposedChart>
    </div>
  );
}
